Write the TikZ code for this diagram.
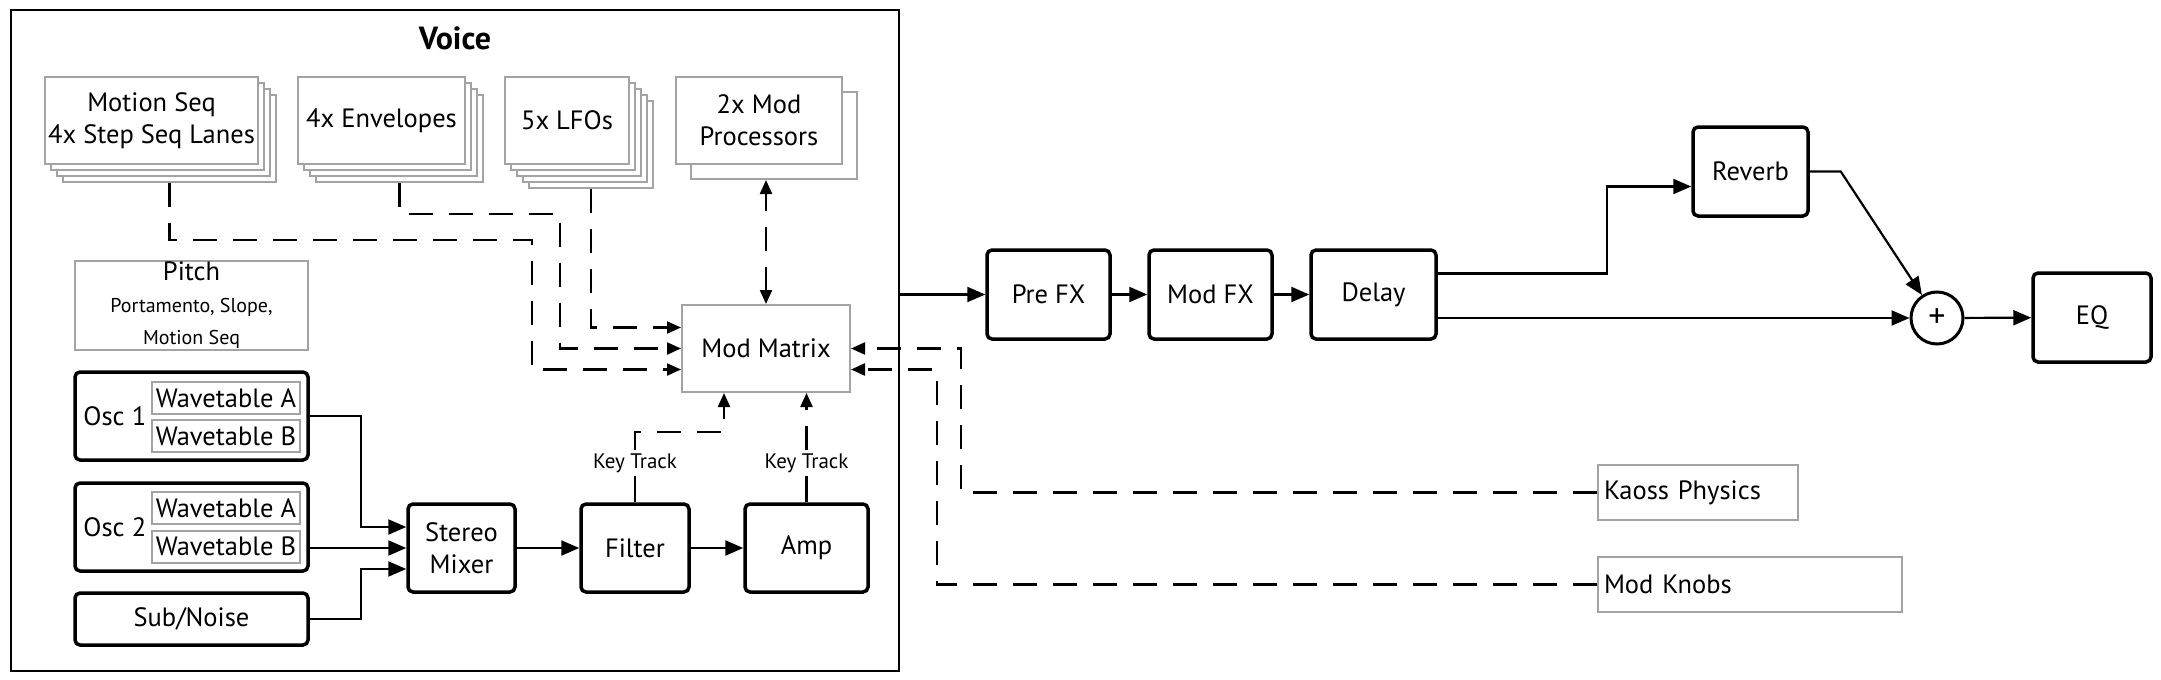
\documentclass[tikz,border=0pt]{standalone}
\usepackage{fontspec}
\setmainfont{PT Sans}
\usepackage{tikz}
\usetikzlibrary{positioning,arrows.meta,calc}
\definecolor{boxgrey}{HTML}{A3A3A3}
\newcommand{\txtmain}{\fontsize{26.5}{32}\selectfont}
\newcommand{\txtsmall}{\fontsize{20}{24}\selectfont}
\tikzset{
  frame/.style={rectangle, draw=black, line width=2pt, inner sep=0pt},
  blk/.style={rectangle, rounded corners=5pt, draw=black, fill=white,
              line width=3.5pt, align=center, font=\txtmain, inner sep=2pt},
  src/.style={rectangle, draw=boxgrey, fill=white, line width=2pt,
              align=center, font=\txtmain, inner sep=1pt},
  wt/.style={src, minimum width=148pt, minimum height=32pt, inner sep=0pt},
  ar/.style={-{Triangle[length=18pt,width=15pt]}, line width=2.2pt, draw=black},
  dln/.style={line width=2.2pt, dash pattern=on 24pt off 16pt},
  dar/.style={dln, -{Triangle[length=14pt,width=12pt]}},
  dbl/.style={dln, {Triangle[length=14pt,width=12pt]}-{Triangle[length=14pt,width=12pt]}},
  lbl/.style={font=\fontsize{21}{24}\selectfont, inner sep=3pt},
}

\begin{document}
\begin{tikzpicture}[x=1pt, y=-1pt]
  \useasboundingbox (0,0) rectangle (2161,680);
  \node[frame, minimum width=888pt, minimum height=661pt] (voice) at (455,340.5) {};
  \node[font=\fontsize{32}{36}\selectfont\bfseries] (vt) at (455,38) {Voice};

  % modulation sources (stacked copies)
  \foreach \k in {3,2,1}
    \node[src, minimum width=213pt, minimum height=87pt] (ms\k) at ($(151.5,120.5)+(6*\k,6*\k)$) {};
  \node[src, minimum width=213pt, minimum height=87pt] (ms) at (151.5,120.5) {Motion Seq\\4x Step Seq Lanes};
  \foreach \k in {3,2,1}
    \node[src, minimum width=167pt, minimum height=87pt] (env\k) at ($(381.5,120.5)+(6*\k,6*\k)$) {};
  \node[src, minimum width=167pt, minimum height=87pt] (env) at (381.5,120.5) {4x Envelopes};
  \foreach \k in {4,3,2,1}
    \node[src, minimum width=124pt, minimum height=87pt] (lfo\k) at ($(567,120.5)+(6*\k,6*\k)$) {};
  \node[src, minimum width=124pt, minimum height=87pt] (lfo) at (567,120.5) {5x LFOs};
  \node[src, minimum width=166pt, minimum height=87pt] (mp1) at (774,135.5) {};
  \node[src, minimum width=166pt, minimum height=87pt] (mp) at (759,120.5) {2x Mod\\Processors};

  \node[src, minimum width=233pt, minimum height=87pt] (pit) at (191.5,305.5)
    {Pitch\\\txtsmall Portamento, Slope,\\\txtsmall Motion Seq};
  \node[src, minimum width=168pt, minimum height=87pt] (mm) at (766,348.5) {Mod Matrix};

  % oscillators
  \node[blk, minimum width=233pt, minimum height=88pt] (osc1) at (191.5,416) {};
  \node[font=\txtmain, anchor=west, inner sep=4pt] (o1l) at ($(osc1.west)+(6,0)$) {Osc 1};
  \node[wt] (o1a) at (226,398) {Wavetable A};
  \node[wt] (o1b) at (226,436) {Wavetable B};
  \node[blk, minimum width=233pt, minimum height=88pt] (osc2) at (191.5,527) {};
  \node[font=\txtmain, anchor=west, inner sep=4pt] (o2l) at ($(osc2.west)+(6,0)$) {Osc 2};
  \node[wt] (o2a) at (226,508) {Wavetable A};
  \node[wt] (o2b) at (226,546.5) {Wavetable B};
  \node[blk, minimum width=233pt, minimum height=52pt] (sub) at (191.5,619) {Sub/Noise};

  \node[blk, minimum width=107pt, minimum height=88pt] (mix) at (461.5,548) {Stereo\\Mixer};
  \node[blk, minimum width=108pt, minimum height=88pt] (flt) at (635,548) {Filter};
  \node[blk, minimum width=123pt, minimum height=88pt] (amp) at (806.5,548) {Amp};
  \node[lbl] (ktf) at (flt.north |- 0,463) {Key Track};
  \node[lbl] (kta) at (amp.north |- ktf) {Key Track};

  % effects chain
  \node[blk, minimum width=123pt, minimum height=89pt] (pre) at (1048.5,294.5) {Pre FX};
  \node[blk, minimum width=123pt, minimum height=89pt] (mfx) at (1210.5,294.5) {Mod FX};
  \node[blk, minimum width=125pt, minimum height=89pt] (dly) at (1373.5,294.5) {Delay};
  \node[blk, minimum width=115pt, minimum height=89pt] (rev) at (1750.5,171.5) {Reverb};
  \node[circle, draw=black, line width=3pt, minimum size=52pt, inner sep=0pt, font=\fontsize{34}{34}\selectfont] (sum) at (1937,318) {+};
  \node[blk, minimum width=118pt, minimum height=89pt] (eq) at (2092,317.5) {EQ};

  % performance controls
  \node[src, minimum width=200pt, minimum height=55pt, text width=188pt, inner xsep=6pt, align=left] (kp) at (1698,492.5) {Kaoss Physics};
  \node[src, minimum width=304pt, minimum height=55pt, text width=292pt, inner xsep=6pt, align=left] (mk) at (1750,584.5) {Mod Knobs};

  % audio
  \draw[ar] (osc1.east) -- ++(51,0) |- ($(mix.west)+(0,-21)$);
  \draw[ar] (osc2.east |- mix.west) -- (mix.west);
  \draw[ar] (sub.east) -- ++(51,0) |- ($(mix.west)+(0,21)$);
  \draw[ar] (mix) -- (flt);
  \draw[ar] (flt) -- (amp);
  \draw[ar] (voice.east |- pre.west) -- (pre.west);
  \draw[ar] (pre) -- (mfx);
  \draw[ar] (mfx) -- (dly);
  \draw[ar] ($(dly.east)+(0,-21)$) -| ($(rev.west)+(-84,15)$) -- ($(rev.west)+(0,15)$);
  \draw[ar] (dly.east |- sum.west) -- (sum.west);
  \draw[ar] (rev.east) -- ++(31,0) -- (sum);
  \draw[ar] (sum) -- (eq);

  % modulation
  \draw[dar] (lfo4.south) |- ($(mm.west)+(0,-21)$);
  \draw[dar] (env3.south) -- ++(0,31) -| ($(mm.west)+(-121,0)$) -- (mm.west);
  \draw[dar] (ms3.south) -- ++(0,57) -| ($(mm.west)+(-149,21)$) -- ($(mm.west)+(0,21)$);
  \draw[dbl] (mm.north) -- (mm.north |- mp1.south);
  \draw[line width=2.2pt] (flt.north) -- (ktf.south);
  \draw[dar] (ktf.north) -- ++(0,-18) -| ($(mm.south)+(-42,0)$);
  \draw[line width=2.2pt] (amp.north) -- (kta.south);
  \draw[dar] (kta.north) -- (kta.north |- mm.south);
  \draw[dar] (kp.west) -| ($(mm.east)+(110,0)$) -- (mm.east);
  \draw[dar] (mk.west) -| ($(mm.east)+(86,21)$) -- ($(mm.east)+(0,21)$);
\end{tikzpicture}
\end{document}
